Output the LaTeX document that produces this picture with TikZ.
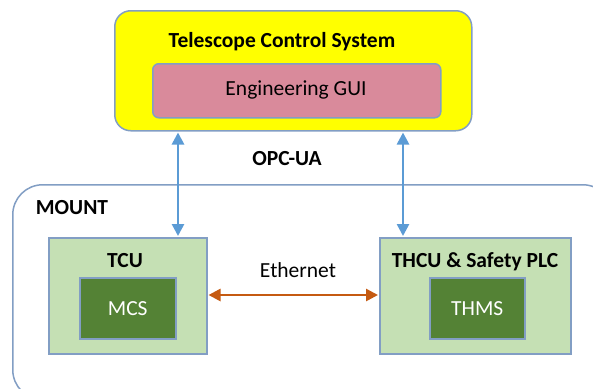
\documentclass[tikz,border=0pt]{standalone}
\usepackage{fontspec}
\setmainfont{Carlito}
\usetikzlibrary{arrows.meta}
\definecolor{edge}{RGB}{130,158,196}
\definecolor{tcsyellow}{RGB}{255,255,0}
\definecolor{guipink}{RGB}{217,138,155}
\definecolor{lightgreen}{RGB}{197,224,180}
\definecolor{darkgreen}{RGB}{84,130,53}
\definecolor{ethorange}{RGB}{197,90,17}
\definecolor{opcblue}{RGB}{91,155,213}
\tikzset{
  box/.style={draw=edge, line width=1.5pt, inner sep=0pt},
  lbl/.style={font=\fontsize{21.5}{24}\selectfont, inner sep=0pt},
  blbl/.style={lbl, font=\fontsize{21.5}{24}\selectfont\bfseries},
  opc/.style={draw=opcblue, line width=2.6pt, {Triangle[length=12pt,width=12pt]}-{Triangle[length=12pt,width=12pt]}, shorten <=1pt, shorten >=1pt},
  eth/.style={draw=ethorange, line width=2.6pt, {Triangle[length=12pt,width=12pt]}-{Triangle[length=12pt,width=12pt]}, shorten <=1pt, shorten >=1pt}
}
\begin{document}
\begin{tikzpicture}[x=1pt,y=-1pt]
\useasboundingbox (0,0) rectangle (593,388);
\clip (0,0) rectangle (593,388);
% Telescope Control System
\node[box, fill=tcsyellow, rounded corners=16pt, minimum width=357pt, minimum height=120pt, anchor=north west] (tcs) at (114,10) {};
\node[blbl] (tcst) at (282,42) {Telescope Control System};
\node[box, fill=guipink, rounded corners=6pt, minimum width=288pt, minimum height=54pt, anchor=north west] (gui) at (152,63) {};
\node[lbl] (guit) at (296,90) {Engineering GUI};
% Mount
\node[box, fill=white, rounded corners=30pt, minimum width=600pt, minimum height=215pt, anchor=north west] (mount) at (12,184) {};
\node[blbl] (mountt) at (72,208) {MOUNT};
% TCU
\node[box, fill=lightgreen, minimum width=158pt, minimum height=116pt, anchor=north west] (tcu) at (48,237) {};
\node[blbl] (tcut) at (125,261) {TCU};
\node[box, fill=darkgreen, minimum width=96pt, minimum height=61pt, anchor=north west] (mcs) at (79,277) {};
\node[lbl, text=white] (mcst) at (mcs.center) {MCS};
% THCU
\node[box, fill=lightgreen, minimum width=191pt, minimum height=116pt, anchor=north west] (thcu) at (379,237) {};
\node[blbl] (thcut) at (475,262) {THCU \& Safety PLC};
\node[box, fill=darkgreen, minimum width=95pt, minimum height=61pt, anchor=north west] (thms) at (429,277) {};
\node[lbl, text=white] (thmst) at (thms.center) {THMS};
% labels
\node[blbl] (opct) at (287,159) {OPC-UA};
\node[lbl] (etht) at (298,270) {Ethernet};
% connectors
\draw[opc] (tcs.south -| 178,0) -- (tcu.north -| 178,0);
\draw[opc] (tcs.south -| 403,0) -- (thcu.north -| 403,0);
\draw[eth] (tcu.east |- 0,295) -- (thcu.west |- 0,295);
\end{tikzpicture}
\end{document}
